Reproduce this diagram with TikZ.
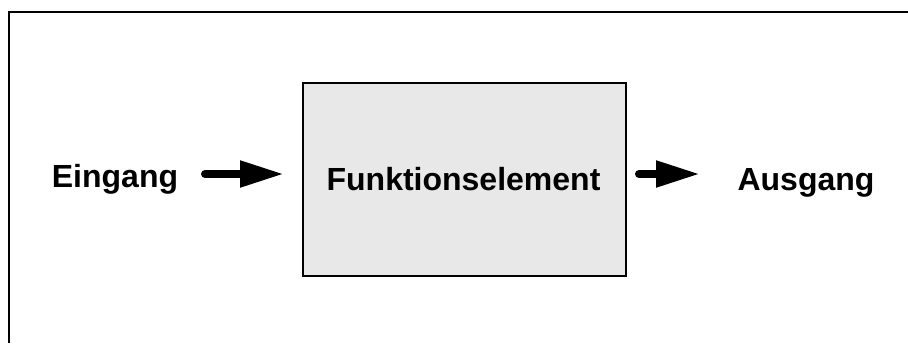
\documentclass[tikz,border=0pt]{standalone}
\usepackage{fontspec}
\setmainfont{Liberation Sans}
\usetikzlibrary{arrows.meta}
\definecolor{boxfill}{RGB}{232,232,232}
\tikzset{
  frameline/.style={line width=2pt, black},
  label/.style={font=\fontsize{32}{38}\selectfont\bfseries, anchor=base, inner sep=0pt},
  blockbox/.style={draw=black, line width=2pt, fill=boxfill, minimum width=323pt, minimum height=193pt, inner sep=0pt},
  flowarrow/.style={line width=8pt, line cap=round, -{Triangle[length=44pt, width=25pt]}}
}
\begin{document}
\begin{tikzpicture}[x=1pt, y=-1pt]
  \useasboundingbox (0,0) rectangle (908,343);
  % open frame: only top and left edges
  \draw[frameline] (9,343) -- (9,12) -- (908,12);
  % function block
  \node[blockbox] (block) at (464.5,179.5) {};
  \node[label] (blocktext) at (463.5,190) {Funktionselement};
  % input and output labels
  \node[label] (in) at (115,187) {Eingang};
  \node[label] (out) at (806,190) {Ausgang};
  % arrows
  \coordinate (inS) at (205,174);
  \coordinate (inE) at (284,174);
  \coordinate (outS) at (639,174);
  \coordinate (outE) at (700,174);
  \draw[flowarrow] (inS) -- (inE);
  \draw[flowarrow] (outS) -- (outE);
\end{tikzpicture}
\end{document}
